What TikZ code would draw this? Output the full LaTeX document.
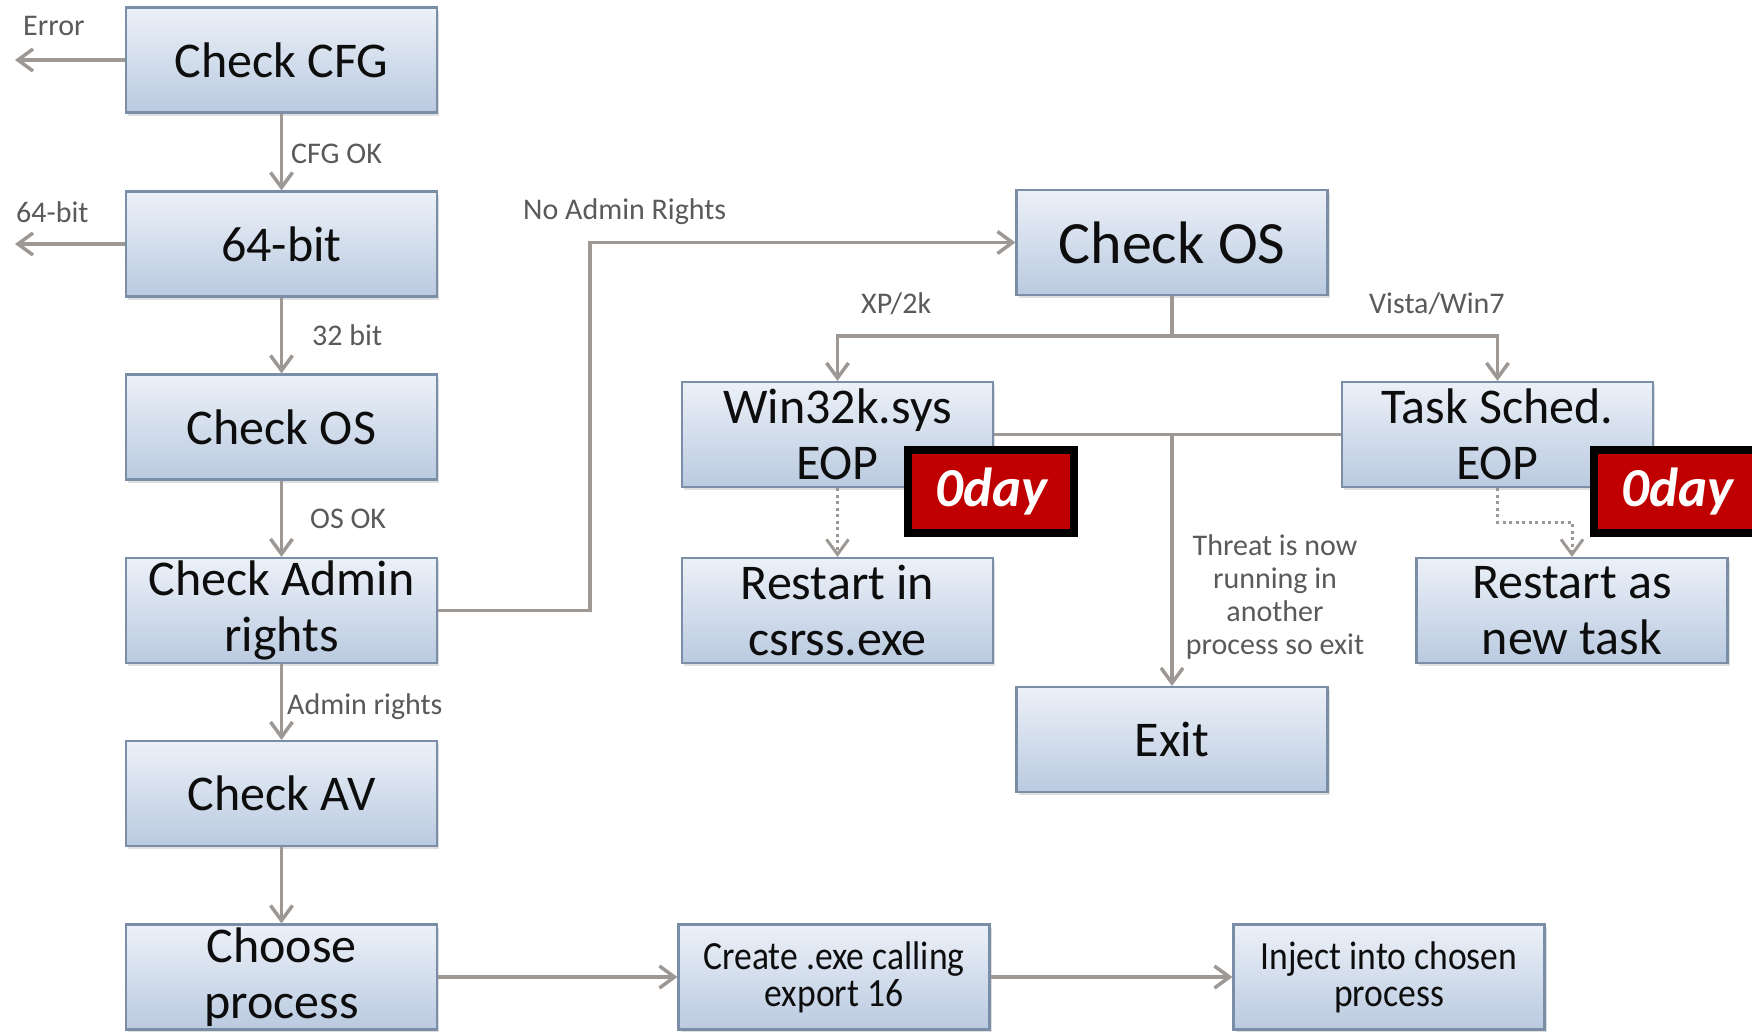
\documentclass[tikz,border=0pt]{standalone}
\usepackage{fontspec}
\setmainfont{Carlito}
\newfontfamily\narrowfont{Carlito}[FakeStretch=0.89]
\usetikzlibrary{arrows.meta,shadows}

\definecolor{boxtop}{RGB}{236,241,248}
\definecolor{boxbot}{RGB}{186,202,224}
\definecolor{boxline}{RGB}{122,142,168}
\definecolor{wire}{RGB}{158,152,148}
\definecolor{labelgray}{RGB}{90,90,90}
\definecolor{dayred}{RGB}{192,0,0}

\begin{document}
\begin{tikzpicture}[x=1pt,y=-1pt,
  stepbox/.style={draw=boxline, line width=2.2pt, top color=boxtop, bottom color=boxbot,
    minimum width=311pt, minimum height=105pt, inner sep=0pt, align=center,
    font=\fontsize{50}{56}\selectfont, text=black!95,
    drop shadow={shadow xshift=2pt, shadow yshift=-3pt, opacity=0.25}},
  narrowbox/.style={stepbox, font=\narrowfont\fontsize{40}{37}\selectfont},
  wire/.style={draw=wire, line width=3.5pt},
  arr/.style={wire, -{Straight Barb[length=15pt,width=22pt]}},
  dotarr/.style={arr, line width=3pt, dash pattern=on 3pt off 3.5pt},
  lbl/.style={font=\fontsize{30}{33}\selectfont, text=labelgray, inner sep=0pt},
  badge/.style={draw=black, line width=8pt, fill=dayred, minimum width=166pt,
    minimum height=83pt, inner sep=0pt, text=white,
    font=\fontsize{55}{60}\selectfont\bfseries\itshape}
]
\fill[white] (0,0) rectangle (1752,1031);
\useasboundingbox (0,0) rectangle (1752,1031);

% main column
\node[stepbox] (cfg)    at (281.5,60)    {Check CFG};
\node[stepbox] (bit)    at (281.5,244)   {64-bit};
\node[stepbox] (os1)    at (281.5,427)   {Check OS};
\node[stepbox] (admin)  at (281.5,610.5) {Check Admin\\rights};
\node[stepbox] (av)     at (281.5,793.5) {Check AV};
\node[stepbox] (choose) at (281.5,977)   {Choose\\process};

% no-admin branch
\node[stepbox, font=\fontsize{60}{66}\selectfont] (os2) at (1172,242.5) {Check OS};
\node[stepbox] (win)     at (837.5,434.5) {Win32k.sys\\EOP};
\node[stepbox] (task)    at (1497.5,434.5) {Task Sched.\\EOP};
\node[stepbox] (csrss)   at (837.5,610.5) {Restart in\\csrss.exe};
\node[stepbox] (newtask) at (1572,610.5)  {Restart as\\new task};
\node[stepbox] (exit)    at (1172,739.5)  {Exit};

% injection chain
\node[narrowbox] (create) at (834,977)  {Create .exe calling\\export 16};
\node[narrowbox] (inject) at (1389,977) {Inject into chosen\\process};

% edge labels
\node[lbl, anchor=base west] (lerr)   at (23,35)   {Error};
\node[lbl, anchor=base west] (l64)    at (16,222)  {64-bit};
\node[lbl, anchor=base west] (lcfg)   at (291,163) {CFG OK};
\node[lbl, anchor=base west] (l32)    at (312,345) {32 bit};
\node[lbl, anchor=base west] (losok)  at (310,528) {OS OK};
\node[lbl, anchor=base west] (ladm)   at (287,714) {Admin rights};
\node[lbl, anchor=base west] (lnoadm) at (523,219) {No Admin Rights};
\node[lbl, anchor=base west] (lxp)    at (861,313) {XP/2k};
\node[lbl, anchor=base west] (lvista) at (1369,313) {Vista/Win7};
\node[lbl, align=center] (lthreat) at (1275,597)
  {Threat is now\\running in\\another\\process so exit};

% connector end points and bends
\coordinate (errend) at (15,60);
\coordinate (bitend) at (15,244);
\coordinate (nabend) at (590,610.5);
\coordinate (split)  at (1172,336);
\coordinate (taskbend) at (1497.5,522);

\draw[arr] (cfg.west) -- (errend);
\draw[arr] (bit.west) -- (bitend);
\draw[arr] (cfg.south) -- (bit.north);
\draw[arr] (bit.south) -- (os1.north);
\draw[arr] (os1.south) -- (admin.north);
\draw[arr] (admin.south) -- (av.north);
\draw[arr] (av.south) -- (choose.north);

\draw[arr] (admin.east) -- (nabend) |- (os2.west);
\draw[wire] (os2.south) -- (split);
\draw[arr] (split) -| (win.north);
\draw[arr] (split) -| (task.north);
\draw[wire] (win.east) -- (task.west);
\draw[arr] (win.east -| exit.north) -- (exit.north);
\draw[dotarr] (win.south) -- (csrss.north);
\draw[dotarr] (task.south) -- (taskbend) -| (newtask.north);

\draw[arr] (choose.east) -- (create.west);
\draw[arr] (create.east) -- (inject.west);

% zero-day badges
\begin{scope}
  \clip (0,0) rectangle (1752,1031);
  \node[badge] (day1) at (991,491.5)  {0day};
  \node[badge] (day2) at (1677,491.5) {0day};
\end{scope}
\end{tikzpicture}
\end{document}
